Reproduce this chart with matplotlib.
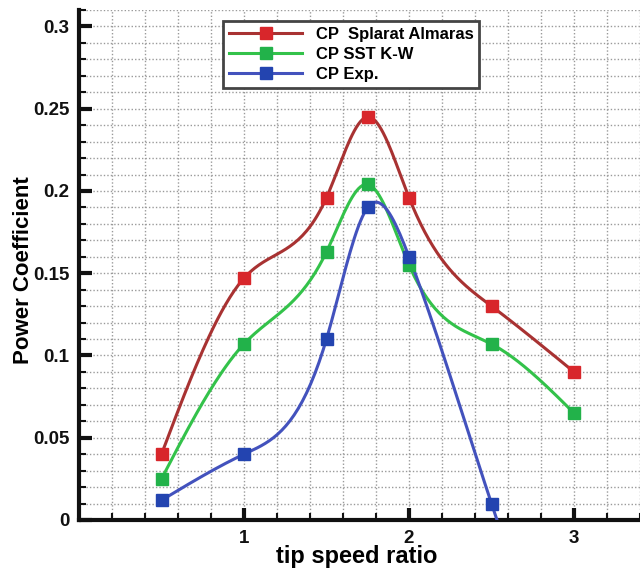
import numpy as np
import matplotlib
matplotlib.use("Agg")
import matplotlib.pyplot as plt
from matplotlib.ticker import MultipleLocator

# valeurs
tsr = [0.5, 1.0, 1.5, 1.75, 2.0, 2.5, 3.0]
cp_sa = [0.040, 0.147, 0.196, 0.245, 0.196, 0.130, 0.090]
cp_sst = [0.025, 0.107, 0.163, 0.204, 0.155, 0.107, 0.065]
cp_exp = [0.012, 0.040, 0.110, 0.190, 0.160, 0.010, -0.130]

labels = ["CP  Splarat Almaras", "CP SST K-W", "CP Exp."]
colors_line = ["#a83232", "#33c24a", "#4352bd"]
colors_mark = ["#d8262b", "#22b24a", "#2344b0"]


def spline(x, y, n=200):
    # natural cubic spline, only used to draw the smooth curve
    x = np.asarray(x, float)
    y = np.asarray(y, float)
    k = len(x)
    h = np.diff(x)
    A = np.zeros((k, k))
    b = np.zeros(k)
    A[0, 0] = A[-1, -1] = 1
    for i in range(1, k - 1):
        A[i, i - 1] = h[i - 1]
        A[i, i] = 2 * (h[i - 1] + h[i])
        A[i, i + 1] = h[i]
        b[i] = 6 * ((y[i + 1] - y[i]) / h[i] - (y[i] - y[i - 1]) / h[i - 1])
    M = np.linalg.solve(A, b)
    xs = np.linspace(x[0], x[-1], n)
    j = np.clip(np.searchsorted(x, xs) - 1, 0, k - 2)
    t1 = x[j + 1] - xs
    t2 = xs - x[j]
    hj = h[j]
    ys = (M[j] * t1**3 + M[j + 1] * t2**3) / (6 * hj) \
        + (y[j] / hj - M[j] * hj / 6) * t1 + (y[j + 1] / hj - M[j + 1] * hj / 6) * t2
    return xs, ys


fig = plt.figure(figsize=(6.4, 5.72), dpi=100)
ax = fig.add_axes([79 / 640, 52 / 572, 1 - 79 / 640, (520 - 10) / 572])

for ys, lab, cl, cm in zip([cp_sa, cp_sst, cp_exp], labels, colors_line, colors_mark):
    xs, ss = spline(tsr, ys)
    ax.plot(xs, ss, color=cl, lw=2.2, zorder=3)
    ax.plot(tsr, ys, ls="none", marker="s", ms=9, color=cm, zorder=4)
    ax.plot([], [], color=cl, lw=2.2, marker="s", ms=9, mfc=cm, mec=cm, label=lab)

ax.set_xlim(0, 3.4)
ax.set_ylim(0, 0.31)
ax.xaxis.set_major_locator(MultipleLocator(1))
ax.xaxis.set_minor_locator(MultipleLocator(0.2))
ax.yaxis.set_major_locator(MultipleLocator(0.05))
ax.yaxis.set_minor_locator(MultipleLocator(0.01))
ax.set_yticks([0, 0.05, 0.1, 0.15, 0.2, 0.25, 0.3])
ax.set_yticklabels(["0", "0.05", "0.1", "0.15", "0.2", "0.25", "0.3"])
ax.set_xticks([1, 2, 3])
ax.set_xticklabels(["1", "2", "3"])

ax.grid(True, which="both", color="#9a9a9a", ls=(0, (1, 1.5)), lw=1.0)
ax.set_axisbelow(True)

for s in ["top", "right"]:
    ax.spines[s].set_visible(False)
for s in ["left", "bottom"]:
    ax.spines[s].set_linewidth(3)
    ax.spines[s].set_color("#111111")

ax.tick_params(which="major", direction="in", length=9, width=3, colors="#111111",
               labelsize=13.5, pad=7)
ax.tick_params(which="minor", direction="in", length=5, width=1.5, colors="#111111")
for t in ax.get_xticklabels() + ax.get_yticklabels():
    t.set_fontfamily("Liberation Sans")
    t.set_fontweight("bold")

fig.text(357 / 640, 1 - 563 / 572, "tip speed ratio", fontsize=17, fontweight="bold",
         fontfamily="Liberation Sans", ha="center", va="baseline")
fig.text(29 / 640, 1 - 270 / 572, "Power Coefficient", fontsize=16, fontweight="bold",
         fontfamily="Liberation Sans", ha="center", va="baseline", rotation=90,
         rotation_mode="anchor")

leg = ax.legend(loc="upper left", bbox_to_anchor=(223 / 640, 1 - 21 / 572),
                bbox_transform=fig.transFigure, borderaxespad=0, frameon=True,
                fancybox=False, edgecolor="#444444", handlelength=4.4,
                handletextpad=0.8, labelspacing=0.3, borderpad=0.35,
                prop={"family": "Liberation Sans", "weight": "bold", "size": 12})
leg.get_frame().set_linewidth(2)
leg.get_frame().set_alpha(1)

fig.savefig("out.png", dpi=100)
